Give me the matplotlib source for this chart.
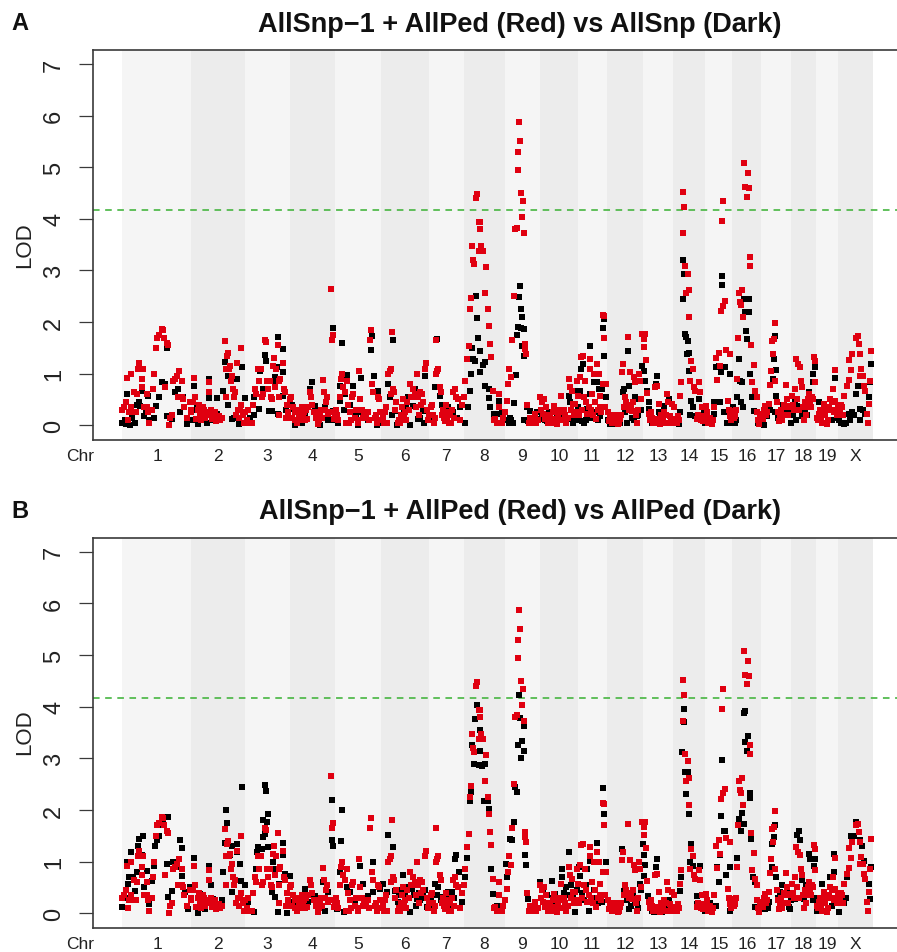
import matplotlib
matplotlib.use("Agg")
import matplotlib.pyplot as plt

plt.rcParams['font.family'] = ['Liberation Sans', 'DejaVu Sans']

W, H = 897, 953
chr_labels = ['1','2','3','4','5','6','7','8','9','10','11','12','13','14','15','16','17','18','19','X']
chr_edges = [122,191,245,290,335,381,429,464,505,540,578,607,643,673,705,732,761,791,816,838,873]
chr_label_pos = [157,218,267,312,358,405,446,484,522,559,592,625,658,689,719,747,776,803,827,855]
threshold = 4.17
yticks = [0,1,2,3,4,5,6,7]

# Genome position, LOD: red series is common to both panels
red_chr1_4 = [(122,.3),(124,.35),(126,.45),(128,.1),(129,.25),(127,.92),(131,1.0),(133,.25),(131,.35),(136,.25),(134,.65),(137,.6),(139,1.2),(138,1.1),(143,1.1),(142,.9),(142,.75),(144,.35),(147,.35),(149,.05),(147,.6),(152,.3),(148,.25),(153,.7),(154,1.0),(156,1.5),(157,1.7),(159,1.75),(162,1.87),(163,1.85),(165,.75),(164,1.7),(167,1.6),(168,1.55),(169,0),(172,.2),(170,.15),(173,.85),(175,.9),(177,.95),(179,1.05),(182,.85),(178,.55),(182,.55),(183,.5),(184,.35),(187,.15),(190,.45),(191,.3),
(191,.25),(193,.45),(194,.92),(195,.55),(196,.12),(198,.3),(199,.4),(201,.1),(203,.35),(204,.3),(205,.15),(206,.25),(209,.65),(209,.83),(210,.2),(212,.12),(214,.2),(216,.08),(218,.12),(220,.1),(222,.15),(225,1.64),(226,.55),(227,1.35),(228,1.4),(226,1.1),(229,1.1),(230,1.15),(231,.85),(232,.95),(233,.7),(234,.55),(235,.65),(237,1.2),(239,.15),(240,.3),(241,1.5),(241,.4),(243,.2),(244,.05),(245,.25),
(247,.1),(248,.3),(250,.05),(252,.05),(253,.4),(255,.7),(256,.6),(258,1.1),(259,.85),(261,1.1),(262,.55),(263,.6),(265,1.65),(266,1.62),(267,.85),(268,.7),(270,.85),(271,.55),(272,.5),(273,1.15),(274,1.3),(275,.75),(276,1.1),(278,1.55),(279,.85),(280,.9),(279,.55),(279,.2),(283,1.2),(284,.7),(285,.65),(287,.4),(288,.25),(290,.5),
(286,.15),(291,.55),(292,.15),(293,.35),(295,.25),(297,.05),(298,.3),(300,.1),(301,.15),(302,.35),(303,.2),(305,.1),(306,.3),(308,.35),(310,.65),(311,.55),(312,.4),(314,.25),(316,.15),(318,.02),(319,.1),(320,.2),(322,.15),(323,.88),(324,.65),(325,.3),(326,.45),(327,.55),(329,.25),(331,2.65),(332,1.65),(333,1.75),(333,.25),(335,.2)]
red_chr5_7 = [(337,.2),(338,.1),(340,.55),(341,.9),(342,1.0),(343,.75),(345,.65),(347,.85),(348,.4),(349,.05),(350,.25),(352,.55),(353,.6),(355,.15),(358,.05),(358,.1),(359,1.05),(360,.5),(362,.3),(364,.25),(366,.15),(368,.25),(370,1.65),(371,1.85),(372,.8),(373,.65),(375,.15),(377,.05),(378,.55),(379,.5),(381,.1),
(383,.15),(385,.25),(386,.35),(387,.05),(388,1.0),(390,1.05),(391,1.1),(391,.6),(392,1.8),(393,.7),(394,.65),(395,.3),(396,.45),(398,.05),(399,.1),(400,.05),(402,.35),(403,.5),(405,.25),(407,.45),(410,.8),(413,.7),(414,.55),(415,.6),(417,1.0),(418,.55),(420,.65),(421,.4),(423,.45),(425,1.1),(426,1.2),(427,.3),(429,.2),
(431,.35),(432,.4),(433,.2),(435,.15),(436,1.65),(436,1.0),(437,1.05),(438,1.1),(440,.75),(441,.65),(443,.3),(444,.15),(446,.4),(447,.1),(449,.05),(450,.2),(452,.3),(453,.65),(455,.7),(456,.55),(458,.5),(460,.1),(462,.4),(464,.55)]
red_chr8_13 = [(465,.85),(467,1.28),(469,1.54),(470,2.25),(471,2.46),(473,3.2),(474,3.12),(472,3.48),(476,4.4),(477,4.48),(479,3.93),(480,3.93),(480,3.8),(481,3.48),(479,3.38),(483,3.37),(486,3.07),(485,2.57),(488,2.25),(489,1.92),(490,1.57),(491,1.33),(493,.67),(494,.1),(497,.05),(499,.6),(499,.35),(500,.05),(502,.05),(505,.25),(507,.48),(508,.8),(509,1.1),(511,.93),(512,1.66),(514,2.5),(515,3.8),(517,3.83),(518,4.94),(518,5.3),(520,5.51),(519,5.88),(521,4.5),(523,4.34),(522,4.03),(524,3.72),(525,1.57),(525,1.48),(526,1.38),
(527,.4),(529,.05),(530,.15),(533,.05),(535,.22),(538,.1),(540,.54),(542,.45),(544,.5),(546,.35),(547,.2),(549,.1),(552,.05),(554,.38),(557,.02),(559,.25),(561,.57),(564,.3),(566,.05),(569,.9),(570,.74),(572,.67),(573,.41),(575,.41),(577,.86),(578,.57),
(580,.93),(581,1.32),(583,1.35),(585,.86),(587,.22),(590,1.28),(590,1.1),(592,.6),(594,1.0),(595,.45),(596,.12),(597,1.19),(599,1.0),(600,.56),(600,.35),(603,2.13),(604,2.12),(604,1.7),(603,.8),(606,.8),(605,.35),
(608,.25),(610,.15),(612,.05),(615,.18),(618,.03),(620,.12),(623,1.19),(622,1.03),(625,.54),(628,1.72),(630,1.03),(627,.35),(632,.28),(634,.93),(635,.83),(637,.05),(639,1.0),(640,.86),(642,1.77),(644,1.67),(645,1.77),(644,1.51),(646,1.27),(647,.63),
(649,.22),(651,.25),(653,.05),(655,.74),(657,.77),(659,.41),(660,.02),(662,.12),(664,.25),(667,.6),(668,.45),(670,.18),(672,.41),(674,.35)]
red_chr14_x = [(675,.05),(678,.18),(680,.57),(681,.83),(683,3.72),(683,4.52),(684,4.22),(685,3.08),(688,2.94),(686,2.56),(689,2.62),(689,2.1),(690,.86),(691,1.24),(693,1.1),(694,.74),(695,.67),(697,.12),(699,.83),(700,.64),(702,.35),(704,.18),
(706,.38),(709,.1),(712,.02),(714,.35),(716,1.3),(717,.88),(719,1.41),(720,1.15),(721,2.22),(722,3.95),(723,4.35),(723,2.32),(725,2.41),(726,1.46),(728,.48),(730,1.38),(730,.18),(733,.28),
(735,.18),(738,1.7),(737,.9),(739,2.57),(742,2.62),(740,2.38),(741,2.33),(743,2.1),(744,5.08),(745,4.62),(747,4.43),(748,4.89),(749,4.6),(750,3.26),(750,3.09),(751,1.56),(754,1.17),(752,.83),(755,.67),(757,.54),(757,.25),(759,.02),
(762,.22),(765,.38),(769,.41),(770,.78),(771,1.06),(772,1.64),(774,1.67),(775,1.99),(773,1.38),(775,.86),(777,.45),(780,.18),(782,.1),(786,.78),(787,.5),(790,.38),
(792,.57),(795,.7),(796,1.28),(798,1.19),(800,1.12),(801,.86),(802,.74),(804,.1),(805,.45),(809,.6),(812,.54),(814,1.33),(815,1.25),(815,.83),
(819,.22),(822,.05),(824,.41),(827,.02),(829,.35),(830,.5),(833,.7),(835,1.08),(835,.48),(839,.3),
(842,.35),(844,.57),(847,.77),(849,.88),(849,1.27),(851,1.08),(852,1.38),(856,1.7),(858,1.73),(859,1.57),(860,1.38),(860,.96),(861,1.09),(863,.96),(864,.77),(865,.67),(867,.22),(868,.05),(869,.41),(870,.86),(871,1.43)]
red_baseline = [(200,.2),(207,.22),(211,.3),(215,.25),(219,.18),(236,.2),(238,.3),(295,.1),(299,.2),(304,.25),(307,.12),(317,.25),(321,.3),(328,.22),(334,.12),(336,.3),(346,.05),(351,.1),(356,.3),(363,.15),(369,.1),(376,.2),(380,.25),(384,.05),(401,.2),(404,.15),(406,.1),(409,.3),(411,.55),(416,.35),(419,.2),(422,.6),(428,.1),(434,.05),(442,.2),(445,.08),(448,.25),(451,.05),(454,.15),
(495,.12),(498,.05),(503,.15),(531,.1),(534,.12),(536,.05),(541,.3),(543,.22),(545,.12),(548,.05),(550,.15),(553,.25),(555,.12),(558,.15),(560,.3),(563,.1),(565,.2),(568,.15),(571,.3),(574,.2),(576,.25),(579,.2),(582,.3),(584,.55),(586,.45),(589,.35),(591,.3),(593,.2),(598,.3),(601,.25),(609,.08),(611,.12),(613,.2),(614,.05),(616,.1),(617,.2),(619,.05),(621,.2),(624,.35),(626,.45),(629,.3),(631,.4),(633,.45),(636,.2),(638,.3),(641,.5),
(650,.1),(652,.15),(654,.05),(656,.12),(658,.1),(661,.2),(663,.08),(665,.05),(666,.2),(669,.05),(671,.12),(673,.05),(676,.12),(677,.05),(679,.1),(698,.2),(701,.1),(703,.08),(707,.25),(708,.05),(710,.15),(711,.05),(713,.1),(729,.3),(731,.1),(734,.15),(736,.3),(758,.1),(760,.2),(763,.12),(764,.3),(766,.2),(767,.25),(778,.25),(779,.08),(781,.3),(783,.2),(784,.4),(785,.35),(788,.2),(789,.35),(793,.4),(794,.3),(797,.5),(799,.3),(803,.35),(806,.2),(807,.35),(808,.5),(810,.45),(811,.35),(813,.5),
(817,.15),(818,.1),(820,.3),(821,.15),(823,.05),(825,.2),(826,.3),(828,.1),(831,.3),(832,.45),(834,.25),(836,.3),(837,.2),(838,.35),(840,.25),(841,.4),(843,.2)]

dark_a_chr1_7 = [(122,.05),(127,.6),(126,.02),(130,0),(129,.25),(135,.05),(137,.4),(140,.38),(142,.67),(144,.18),(148,.57),(149,.1),(154,.15),(156,.38),(159,.54),(162,.83),(165,.8),(167,.18),(167,1.5),(172,.12),(175,.64),(178,.7),(180,.25),(183,.54),(187,.02),(194,.77),(197,.4),(198,.02),(207,.05),(209,.9),(209,.52),(217,.52),(217,.22),(223,.67),(225,1.22),(228,.96),(228,.4),(232,.12),(237,.9),(242,1.13),(245,.52),(239,.02),(254,.2),(254,.54),(259,.32),(260,1.06),(265,1.36),(266,1.25),(263,.7),(269,.28),(272,.28),(273,.86),(275,.93),(277,1.12),(278,1.71),(278,.22),(283,1.48),(283,1.03),(283,.57),
(292,.4),(295,0),(293,.32),(302,.05),(312,.83),(310,.7),(315,.38),(320,0),(325,.35),(328,.1),(333,1.88),(333,.28),(338,.05),(340,.48),(342,1.6),(340,.77),(347,.97),(345,.6),(353,.77),(350,.4),(358,0),(361,.91),(362,.25),(368,.1),(371,1.46),(372,1.73),(374,.96),(378,.67),(377,0),(387,.05),(388,.8),(393,1.65),(390,.54),(395,.28),(397,0),(408,.54),(410,0),(413,.38),(415,.7),(418,.12),(423,.28),(425,.96),(424,.05),(433,.1),(435,.74),(437,1.67),(440,.57),(442,.4),(448,.35)]
dark_a_chr8_13 = [(460,.35),(465,.05),(468,.35),(470,.67),(471,1.0),(473,1.28),(472,1.5),(475,1.25),(476,2.51),(477,2.08),(478,1.7),(480,1.44),(480,1.03),(483,1.17),(485,1.23),(485,.77),(489,.7),(489,.53),(490,.35),(494,.22),(499,.48),(499,.22),(502,.25),(507,.1),(510,.15),(514,.43),(516,.97),(517,1.75),(518,1.9),(520,2.7),(519,2.48),(521,2.25),(522,2.09),(521,1.88),(524,1.86),(522,1.54),(524,1.35),
(527,.35),(524,.1),(530,.28),(537,.25),(542,.18),(545,.1),(549,.25),(554,.32),(557,.18),(562,.15),(569,.57),(570,.45),(574,.1),(575,.67),(578,.35),(580,.67),(581,1.1),(583,1.19),(584,.05),(587,.32),(590,1.54),(590,.6),(594,.83),(597,.83),(599,.7),(600,.18),(602,.7),(603,1.88),(604,2.05),(604,1.35),(606,.54),(610,.02),(615,.02),(624,.7),(623,.64),(628,1.43),(629,.77),(627,.05),(635,.54),(639,.5),(637,.18),(642,1.14),(644,1.06),(645,.86),(647,.67),(649,.45),(649,.32),(654,.05),(657,.96),(656,.8),(659,.25),(664,.38),(669,.5),(670,.05)]
dark_a_chr14_x = [(679,.02),(680,.25),(683,2.44),(683,3.2),(684,2.93),(685,1.77),(686,1.72),(688,1.64),(687,1.38),(689,1.41),(689,1.06),(691,.48),(693,.35),(690,.2),(695,.18),(699,.5),(704,.25),(705,.05),(714,.45),(714,.22),(716,1.12),(719,1.15),(722,2.9),(722,2.72),(721,1.03),(725,1.12),(720,.45),(727,.05),(730,1.0),(732,.1),(735,.05),(737,.54),(739,1.28),(740,.86),(742,.83),(743,.35),(744,2.45),(749,2.45),(745,2.19),(749,2.2),(746,1.83),(747,1.68),(750,1.0),(752,.54),(754,.28),(764,0),(767,.18),(774,1.28),(775,1.73),(776,1.08),(773,.9),(776,.57),(775,.25),(785,.25),(791,.05),(795,.45),(797,.38),(802,.18),(805,.25),(813,1.0),(813,.83),(815,1.12),(809,.64),(819,.45),(819,.1),(827,.05),(835,.92),(832,.1),(839,.1),(844,.02),(849,.22),(852,.25),(858,.77),(856,.6),(860,.32),(860,.1),(865,.22),(869,.54),(870,.83),(871,1.19)]
dark_a_baseline = [(125,.1),(132,.15),(139,.45),(146,.25),(151,.3),(192,.1),(196,.3),(203,.1),(213,.1),(234,.15),(250,.15),(286,.3),(289,.15),(298,.1),(305,.2),(318,.1),(331,.1),(336,.1),(344,.3),(356,.2),(365,.15),(383,.05),(392,.2),(400,.1),(404,.25),(406,.35),(420,.15),(428,.1),(431,.2),(445,.1),(453,.25),(457,.15),
(509,.05),(511,.1),(513,.05),(528,.08),(531,.05),(539,.12),(544,.2),(547,.08),(552,.12),(556,.05),(560,.1),(567,.12),(572,.15),(573,.05),(577,.1),(582,.08),(586,.1),(589,.2),(592,.15),(595,.25),(598,.1),(608,.1),(612,.1),(617,.05),(620,.05),(625,.25),(632,.15),(634,.1),(638,.2),(641,.3),(652,.05),(660,.15),(663,.1),(672,.1),(677,.05),
(701,.2),(703,.1),(707,.2),(711,.08),(724,.25),(729,.05),(733,.35),(736,.1),(741,.45),(758,.05),(762,.1),(766,.2),(770,.3),(778,.15),(781,.2),(783,.4),(787,.35),(789,.3),(793,.2),(796,.1),(799,.3),(803,.3),(807,.2),(811,.35),(823,.2),(829,.1),(837,.15),(841,.05),(846,.05),(850,.1),(854,.2),(863,.3)]

dark_b_chr1_7 = [(122,.13),(125,.29),(127,1.0),(128,.57),(129,.7),(131,1.19),(133,.7),(135,.44),(137,.79),(139,1.44),(138,1.3),(143,1.5),(142,1.12),(144,.5),(147,.81),(149,.18),(152,.63),(154,.91),(155,1.31),(157,1.41),(159,1.5),(162,1.7),(163,1.76),(167,.95),(168,1.86),(168,.31),(172,.44),(173,.99),(177,.89),(180,1.41),(182,1.26),(182,.73),(185,.41),(188,.08),(190,.5),(194,1.08),(198,0),(200,.37),(205,.08),(209,.92),(211,.54),(213,.28),(217,.15),(222,.25),(223,.79),(226,2.0),(225,1.37),(227,1.75),(230,1.12),(232,1.31),(232,.41),(237,1.34),(237,1.18),(240,.95),(242,2.45),(241,.63),(245,.54),(248,.21),(254,.02),(256,.86),(257,1.18),(258,1.28),(262,1.25),(263,1.47),(265,1.54),(265,2.48),(266,2.37),(263,1.81),(267,1.76),(268,1.92),(268,1.28),(272,.41),(275,.31),(273,.99),(275,.86),(278,.02),(279,.57),(283,1.21),(283,1.36),(283,1.12),(285,.76),(290,.73),(287,0),
(293,.21),(298,.18),(305,.47),(308,.21),(312,.37),(315,.34),(323,.6),(325,.05),(328,.41),(332,2.2),(332,1.41),(333,1.31),(337,.08),(340,.79),(341,1.39),(342,2.0),(344,.02),(347,.5),(350,.41),(355,.21),(360,.92),(363,.57),(368,.34),(373,.99),(373,.41),(380,.47),(383,.57),(388,1.52),(393,1.28),(387,.41),(395,.44),(398,.21),(403,.74),(405,.41),(410,.02),(412,.47),(417,.28),(423,.41),(427,.12),(433,.12),(435,.57),(438,.5),(443,.31),(448,.41),(452,.41),(455,1.05),(456,1.12),(459,.79),(462,.21)]
dark_b_chr8_13 = [(465,.7),(467,1.08),(470,2.18),(471,2.34),(472,3.25),(474,2.89),(475,3.76),(477,4.03),(479,2.87),(480,3.55),(480,3.15),(482,2.86),(485,2.89),(484,2.18),(488,2.18),(489,2.02),(491,.86),(493,.37),(497,.15),(500,.12),(506,.95),(507,.7),(510,1.44),(512,1.41),(514,1.76),(515,2.44),(517,2.35),(519,4.23),(520,3.79),(524,3.62),(518,3.26),(522,3.33),(524,3.15),(521,3.0),(525,1.12),(526,.94),(528,.28),
(540,.61),(552,.63),(555,.37),(562,.86),(562,.7),(569,1.18),(575,.02),(579,.89),(580,.73),(587,.86),(589,.05),(590,1.02),(597,1.36),(596,.99),(602,.21),(603,2.43),(604,1.92),(604,1.71),(606,1.0),(610,.08),(622,1.25),(624,.44),(629,.08),(637,.21),(640,.57),(643,1.34),(644,1.12),(645,.94),(644,.73),(648,.34),(654,.02),(656,.89),(657,1.06),(662,.02),(669,.25)]
dark_b_chr14_x = [(675,.05),(681,.7),(680,.44),(682,3.13),(684,3.95),(684,3.71),(685,2.73),(688,2.73),(686,2.31),(689,1.93),(691,1.34),(690,.99),(693,.92),(697,.34),(700,.92),(697,.18),(707,.25),(714,.15),(717,.89),(720,1.12),(721,1.88),(722,2.97),(724,1.6),(725,1.6),(726,.74),(719,.6),(730,.89),(730,.05),(737,1.08),(739,1.83),(741,1.6),(742,1.95),(744,1.73),(745,3.91),(744,3.87),(748,3.44),(745,3.31),(747,3.15),(750,2.33),(750,2.23),(751,1.44),(753,.7),(755,.6),(755,.12),(765,.08),(769,.21),(772,1.34),(774,1.47),(775,1.7),(772,.89),(776,.7),(780,.41),(782,.54),(790,.08),(795,.28),(797,1.52),(799,1.6),(800,1.41),(804,.28),(809,1.15),(810,1.05),(815,1.05),(814,.92),(813,.25),(817,.05),(822,.57),(830,.7),(834,1.15),(834,.79),(839,.02),(842,.25),(847,.7),(851,1.5),(854,1.5),(856,1.77),(860,1.41),(862,1.31),(864,1.02),(869,.57),(870,.28),(871,.89)]
dark_b_baseline = [(395,.3),(399,.35),(401,.45),(407,.3),(409,.5),(414,.35),(416,.15),(419,.4),(420,.25),(422,.3),(425,.45),(429,.2),(431,.3),(437,.35),(441,.25),(444,.15),(446,.3),(450,.15),(454,.3),
(543,.45),(545,.2),(547,.35),(549,.15),(553,.3),(556,.15),(558,.2),(560,.3),(564,.4),(566,.5),(568,.35),(571,.55),(573,.3),(577,.45),(582,.4),(584,.25),(586,.55),(592,.3),(594,.45),(598,.2),(600,.3),(625,.35),(627,.25),(631,.15),(633,.4),(635,.2),(638,.1),(641,.45),(650,.12),(652,.05),(660,.1),(664,.08),(667,.15),(671,.05),
(703,.12),(705,.05),(710,.2),(712,.1),(716,.15),(763,.15),(766,.2),(768,.1),(778,.3),(783,.35),(785,.2),(787,.4),(789,.12),(791,.25),(793,.35),(802,.65),(806,.55),(808,.45),(816,.3),(821,.15),(825,.2),(828,.35),(832,.15),(836,.2),(841,.2),(844,.2),(846,.3)]

titles = ['AllSnp\u22121 + AllPed (Red) vs AllSnp (Dark)', 'AllSnp\u22121 + AllPed (Red) vs AllPed (Dark)']
panel_labels = ['A', 'B']
red_all = red_chr1_4 + red_chr5_7 + red_chr8_13 + red_chr14_x + red_baseline
dark_all = [dark_a_chr1_7 + dark_a_chr8_13 + dark_a_chr14_x + dark_a_baseline,
            dark_b_chr1_7 + dark_b_chr8_13 + dark_b_chr14_x + dark_b_baseline]

# pixel geometry of each panel: top, bottom, y of LOD 0, y of LOD 7, title y, label y
geom = [(51, 441, 426.3, 65, 25, 23), (538.5, 929, 914.3, 552.7, 512, 511)]

fig = plt.figure(figsize=(W/100, H/100), dpi=100, facecolor='white')
for i, (top, bot, y0, y7, ty, ly) in enumerate(geom):
    ax = fig.add_axes([93/W, 1-bot/H, 1-93/W, (bot-top)/H])
    per = (y0-y7)/7
    ax.set_xlim(93, 897)
    ax.set_ylim((y0-bot)/per, (y0-top)/per)
    for j in range(len(chr_labels)):
        ax.axvspan(chr_edges[j], chr_edges[j+1], color='#ECECEC' if j % 2 else '#F5F5F5', lw=0, zorder=0)
    ax.axhline(threshold, color='#4DB848', lw=1.25, dashes=(3.8, 3.2), zorder=1)
    dx, dy = zip(*dark_all[i])
    ax.scatter(dx, dy, s=20, marker='s', color='#000000', linewidths=0, zorder=2)
    rx, ry = zip(*red_all)
    ax.scatter(rx, ry, s=20, marker='s', color='#E00010', linewidths=0, zorder=3)
    ax.spines['right'].set_visible(False)
    for s in ['left', 'top', 'bottom']:
        ax.spines[s].set_color('#3A3A3A')
        ax.spines[s].set_linewidth(1.2)
    ax.set_yticks(yticks)
    ax.set_yticklabels([str(v) for v in yticks], rotation=90, va='center', fontsize=17, color='#222222')
    ax.tick_params(axis='y', length=10, width=0.9, pad=10, color='#3A3A3A')
    ax.set_xticks(chr_label_pos)
    ax.set_xticklabels(chr_labels, fontsize=12.5, color='#222222')
    ax.tick_params(axis='x', length=0, pad=6)
    fig.text(25/W, 1-(top+194)/H, 'LOD', rotation=90, fontsize=16, color='#222222', ha='center', va='center')
    fig.text(80/W, 1-(bot+16)/H, 'Chr', fontsize=12.5, color='#222222', ha='center', va='center')
    fig.text(520/W, 1-ty/H, titles[i], fontsize=19.5, fontweight='bold', color='#111111', ha='center', va='center')
    fig.text(20/W, 1-ly/H, panel_labels[i], fontsize=17, fontweight='bold', color='#111111', ha='center', va='center')

fig.savefig('out.png', dpi=100)
